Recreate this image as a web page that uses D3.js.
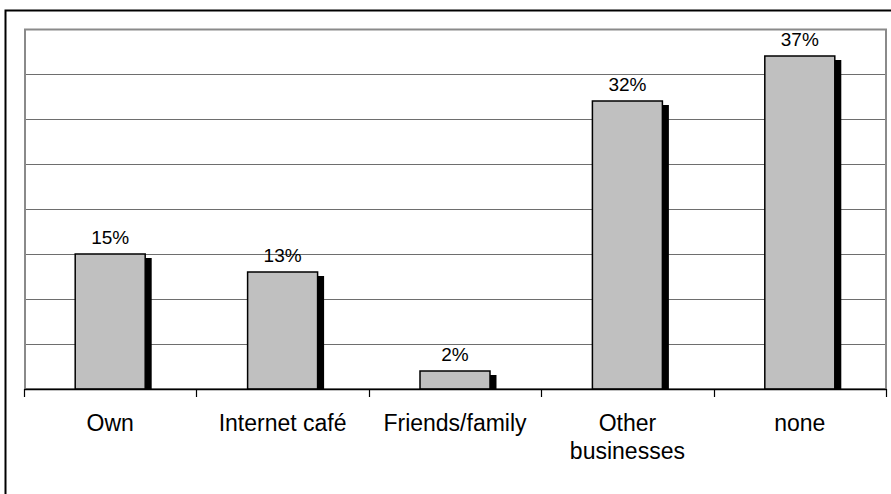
<!DOCTYPE html>
<html>
<head>
<meta charset="utf-8">
<script src="https://cdn.jsdelivr.net/npm/d3@7"></script>
<style>
  html, body { margin: 0; padding: 0; background: #fff; }
  svg { display: block; font-family: "Liberation Sans", Arial, sans-serif; }
</style>
</head>
<body>
<svg id="chart" width="891" height="494"></svg>
<script>
// Where people get access to the internet (share of respondents, %)
const categories = ["Own", "Internet café", "Friends/family", "Other\nbusinesses", "none"];
const values = [15, 13, 2, 32, 37];
const valueLabels = ["15%", "13%", "2%", "32%", "37%"];
const gridTicks = [0, 5, 10, 15, 20, 25, 30, 35, 40];

const svg = d3.select("#chart");
const plot = { left: 24, right: 886, top: 29, bottom: 389 };

const x = d3.scaleBand()
  .domain(categories)
  .range([plot.left, plot.right])
  .paddingInner(0)
  .paddingOuter(0);

const barWidth = x.bandwidth() * 0.406;

const y = d3.scaleLinear()
  .domain([0, 40])
  .range([plot.bottom, plot.top]);

// outer frame
svg.append("rect")
  .attr("x", 5.5).attr("y", 10.5)
  .attr("width", 920).attr("height", 520)
  .attr("fill", "none")
  .attr("stroke", "#000")
  .attr("stroke-width", 2);

// horizontal gridlines
svg.append("g")
  .selectAll("line")
  .data(gridTicks.filter(d => d > 0 && d < 40))
  .join("line")
  .attr("x1", plot.left).attr("x2", plot.right)
  .attr("y1", d => Math.round(y(d)) + 0.5)
  .attr("y2", d => Math.round(y(d)) + 0.5)
  .attr("stroke", "#6e6e6e")
  .attr("stroke-width", 1);

// plot area border
svg.append("rect")
  .attr("x", plot.left + 1).attr("y", plot.top + 0.5)
  .attr("width", plot.right - plot.left - 1)
  .attr("height", plot.bottom - plot.top - 0.5)
  .attr("fill", "none")
  .attr("stroke", "#8a8a8a")
  .attr("stroke-width", 2);

const bars = svg.append("g")
  .selectAll("g")
  .data(categories.map((c, i) => ({ c, v: values[i], label: valueLabels[i] })))
  .join("g");

// drop shadow behind each bar
bars.append("rect")
  .attr("x", d => x(d.c) + x.bandwidth() / 2 - barWidth / 2 + 6.5)
  .attr("y", d => y(d.v) + 4)
  .attr("width", barWidth)
  .attr("height", d => Math.max(0, plot.bottom - y(d.v) - 4))
  .attr("fill", "#000");

// bars
bars.append("rect")
  .attr("x", d => x(d.c) + x.bandwidth() / 2 - barWidth / 2)
  .attr("y", d => y(d.v))
  .attr("width", barWidth)
  .attr("height", d => plot.bottom - y(d.v))
  .attr("fill", "#c0c0c0")
  .attr("stroke", "#000")
  .attr("stroke-width", 1.5);

// value labels
bars.append("text")
  .attr("x", d => x(d.c) + x.bandwidth() / 2)
  .attr("y", d => y(d.v) - 10)
  .attr("text-anchor", "middle")
  .attr("font-size", 19)
  .attr("fill", "#000")
  .text(d => d.label);

// category axis
const xAxis = d3.axisBottom(x).tickSize(0).tickFormat("");
const axisG = svg.append("g")
  .attr("transform", `translate(0,${plot.bottom})`)
  .call(xAxis);
axisG.select(".domain").attr("stroke", "#000").attr("stroke-width", 1.5);

// tick marks at category boundaries
svg.append("g")
  .selectAll("line")
  .data(d3.range(categories.length + 1))
  .join("line")
  .attr("x1", i => Math.round(plot.left + i * x.step()) + 0.5)
  .attr("x2", i => Math.round(plot.left + i * x.step()) + 0.5)
  .attr("y1", plot.bottom)
  .attr("y2", plot.bottom + 8)
  .attr("stroke", "#000")
  .attr("stroke-width", 1.2);

// category labels
const catText = svg.append("g")
  .selectAll("text")
  .data(categories)
  .join("text")
  .attr("x", d => x(d) + x.bandwidth() / 2)
  .attr("y", 431)
  .attr("text-anchor", "middle")
  .attr("font-size", 23)
  .attr("fill", "#000");

catText.selectAll("tspan")
  .data(d => d.split("\n"))
  .join("tspan")
  .attr("x", function () { return d3.select(this.parentNode).attr("x"); })
  .attr("dy", (d, i) => i === 0 ? 0 : 28)
  .text(d => d);
</script>
</body>
</html>
